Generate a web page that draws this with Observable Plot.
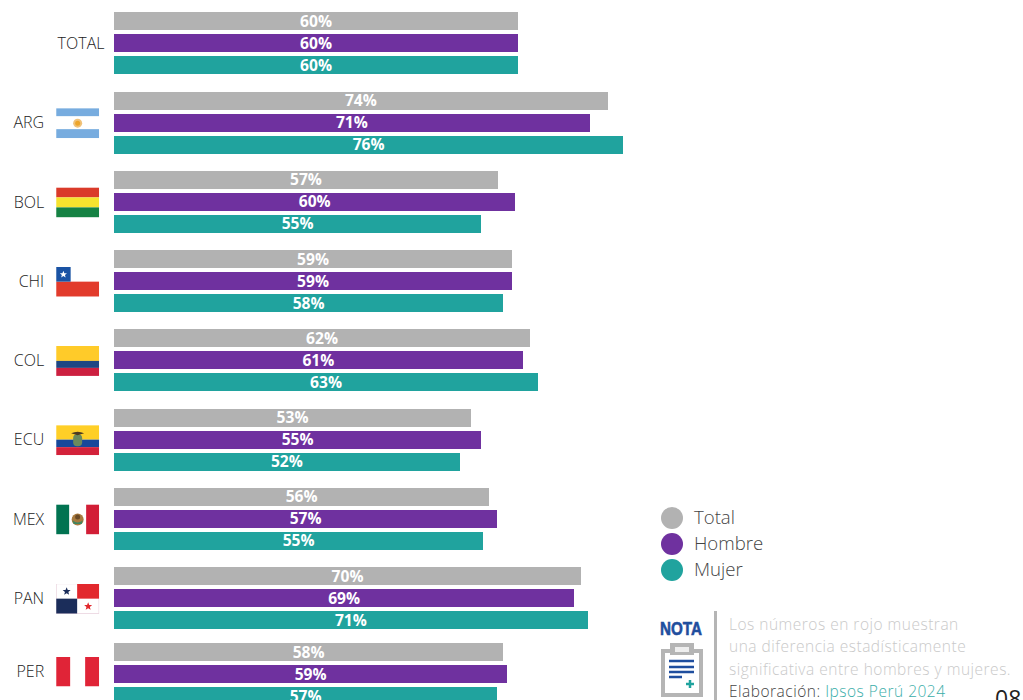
<!DOCTYPE html>
<html lang="es">
<head>
<meta charset="utf-8">
<script src="https://cdn.jsdelivr.net/npm/d3@7"></script>
<script src="https://cdn.jsdelivr.net/npm/@observablehq/plot@0.6"></script>
<style>
html,body{margin:0;padding:0;background:#fff;overflow:hidden}
#page{position:relative;width:1023px;height:700px;overflow:hidden;font-family:"Open Sans",sans-serif}
#chart svg{display:block}
.abs{position:absolute;white-space:nowrap}
.leg{font-size:18.6px;color:#444;line-height:26px;font-weight:300}
.dot{width:22px;height:22px;border-radius:50%}
.note{font-size:15.5px;line-height:22.3px;color:#c9c9c9;letter-spacing:.5px;font-weight:300}
</style>
</head>
<body>
<div id="page"><div id="chart"></div></div>
<script>
const groups = ["TOTAL","ARG","BOL","CHI","COL","ECU","MEX","PAN","PER"];
const series = ["Total","Hombre","Mujer"];
const seriesColors = ["#b2b2b2","#6f319f","#20a39e"];
const totalValues  = [60.3,73.7,57.3,59.4,62.1,53.3,56.0,69.7,58.1];
const hombreValues = [60.3,71.0,59.9,59.4,61.0,54.8,57.2,68.7,58.7];
const mujerValues  = [60.3,76.0,54.8,58.1,63.3,51.6,55.1,70.7,57.2];
const valuesBySeries = [totalValues,hombreValues,mujerValues];

const flagSvgs = {
  ARG:'<rect width="43" height="30" fill="#fff"/><rect width="43" height="8" fill="#77acdf"/><rect y="21" width="43" height="9" fill="#77acdf"/><circle cx="21.5" cy="15" r="4.5" fill="#f0c27a"/><circle cx="21.5" cy="15" r="2.5" fill="#eda52c"/>',
  BOL:'<rect width="43" height="10" fill="#da3a2a"/><rect y="10" width="43" height="10" fill="#f6e32e"/><rect y="20" width="43" height="10" fill="#158243"/>',
  CHI:'<rect width="43" height="15" fill="#fff"/><rect y="15" width="43" height="15" fill="#e23b2c"/><rect width="14.5" height="15" fill="#1a53a4"/><path d="M7.2 4l1 2.5 2.6.1-2 1.7.7 2.6-2.3-1.500-2.200 1.500.7-2.600-2-1.700 2.600-.1z" fill="#fff"/>',
  COL:'<rect width="43" height="15" fill="#ffcb29"/><rect y="15" width="43" height="7" fill="#1d4683"/><rect y="22" width="43" height="8" fill="#cc2040"/>',
  ECU:'<rect width="43" height="14.500" fill="#ffcf27"/><rect y="14.500" width="43" height="7.500" fill="#17489a"/><rect y="22" width="43" height="8" fill="#d3223a"/><rect x="17" y="9" width="9" height="12" rx="4" fill="#6b8a5c"/><path d="M15 8q6.500-3 13 0l-6.500 2z" fill="#4c3a22"/>',
  MEX:'<rect width="43" height="30" fill="#fff"/><rect width="13" height="30" fill="#017351"/><rect x="30" width="13" height="30" fill="#d21e36"/><circle cx="21.500" cy="15" r="6" fill="#a87b3f"/><path d="M16.500 16q5 4 10 0l-1 3.500h-8z" fill="#3f8560"/><circle cx="21.500" cy="12.500" r="2.500" fill="#6a4a26"/>',
  PAN:'<rect width="43" height="30" fill="#fff" stroke="#e4c9d6"/><rect x="21" width="22" height="15" fill="#e2282d"/><rect y="15" width="21" height="15" fill="#1b2d5a"/><path d="M10.500 3.500l1.100 2.800 2.900.1-2.300 1.900.8 2.900-2.500-1.700-2.500 1.700.8-2.900-2.300-1.900 2.900-.1z" fill="#1b2d5a"/><path d="M32 18.500l1.100 2.800 2.900.1-2.300 1.900.8 2.900-2.500-1.700-2.500 1.700.8-2.900-2.300-1.900 2.900-.1z" fill="#e2282d"/>',
  PER:'<rect width="43" height="30" fill="#fff"/><rect width="14" height="30" fill="#e02437"/><rect x="29" width="14" height="30" fill="#e02437"/>'
};
const flagUri = k => "data:image/svg+xml," + encodeURIComponent(
  `<svg xmlns="http://www.w3.org/2000/svg" width="43" height="30" viewBox="0 0 43 30">${flagSvgs[k]}</svg>`);

// y runs in row units; one row is 79.25 px, with the small break before PER kept in the scale.
const rowPx = 79.25;
const slotStep = 22/rowPx, barThick = 18/rowPx;
const bars = groups.flatMap((g,row) => series.map((s,si) => ({
  group:g, series:s, value:valuesBySeries[si][row],
  top:row + si*slotStep, bottom:row + si*slotStep + barThick
})));
// In the reference the PER label and flag sit a little above that row's middle bar.
const rows = groups.map((g,row) => ({group:g, mid:row + slotStep + barThick/2 - (g==="PER" ? 3/rowPx : 0)}));

const chart = Plot.plot({
  width:1023, height:700,
  marginLeft:0, marginRight:0, marginTop:0, marginBottom:0,
  x:{domain:[0,100], range:[114,784], axis:null},
  y:{type:"linear", domain:[0,7.8,8,9], range:[12.4,12.4+7.8*rowPx,643,643+rowPx], axis:null},
  color:{domain:series, range:seriesColors},
  style:{fontFamily:'"Open Sans",sans-serif', background:"#fff"},
  marks:[
    Plot.rectX(bars,{x1:0, x2:"value", y1:"top", y2:"bottom", fill:"series", shapeRendering:"crispEdges"}),
    Plot.text(bars,{x:d=>d.value/2, y:d=>(d.top+d.bottom)/2, text:d=>Math.round(d.value)+"%",
      fill:"#fff", fontWeight:700, fontSize:15.6, dx:-0.5}),
    Plot.text(rows,{x:d=>d.group==="TOTAL"?-1.5:-10.5, y:"mid", text:"group",
      textAnchor:"end", fill:"#222", fontSize:16, fontWeight:300}),
    Plot.image(rows.filter(d=>d.group!=="TOTAL"),{x:d=>-5.5, y:"mid", width:43, height:30,
      preserveAspectRatio:"none", src:d=>flagUri(d.group)})
  ]
});
document.getElementById("chart").append(chart);

const page = document.getElementById("page");
const add = (cls,style,html="") => {
  const e = document.createElement("div");
  e.className = "abs "+cls; e.style.cssText = style; e.innerHTML = html; page.append(e); return e;
};
series.forEach((s,i)=>{
  add("dot",`left:661px;top:${507+i*26}px;background:${seriesColors[i]}`);
  add("leg",`left:694px;top:${504+i*26}px`,s);
});
add("",`left:660px;top:618px;transform-origin:0 50%;transform:scaleX(.8);font:700 19px "Liberation Sans",sans-serif;color:#1f4e9e;-webkit-text-stroke:.6px #1f4e9e`,"NOTA");
add("",`left:660px;top:642px;width:44px;height:58px`,
 `<svg width="44" height="58" viewBox="0 0 44 58">
  <rect x="3" y="9" width="38" height="44" fill="#fff" stroke="#b5b5b5" stroke-width="4"/>
  <rect x="10" y="1" width="24" height="12" fill="#b5b5b5"/>
  <rect x="15" y="5" width="14" height="5" fill="#eee"/>
  <path d="M9 19h25M9 25h25M9 30h25M9 35h13" stroke="#1f4e9e" stroke-width="2.500"/>
  <path d="M26 42h8M30 38v8" stroke="#20a39e" stroke-width="2.500"/></svg>`);
add("",`left:714px;top:611px;width:3px;height:89px;background:#b5b5b5`);
add("note",`left:729px;top:613px`,
 `Los números en rojo muestran<br>una diferencia estadísticamente<br>significativa entre hombres y mujeres.<br><span style="color:#444">Elaboración:</span> <span style="color:#3aaea9">Ipsos Perú 2024</span>`);
add("",`left:995px;top:683px;font-size:23px;line-height:30px;color:#222`,"08");
</script>
</body>
</html>
